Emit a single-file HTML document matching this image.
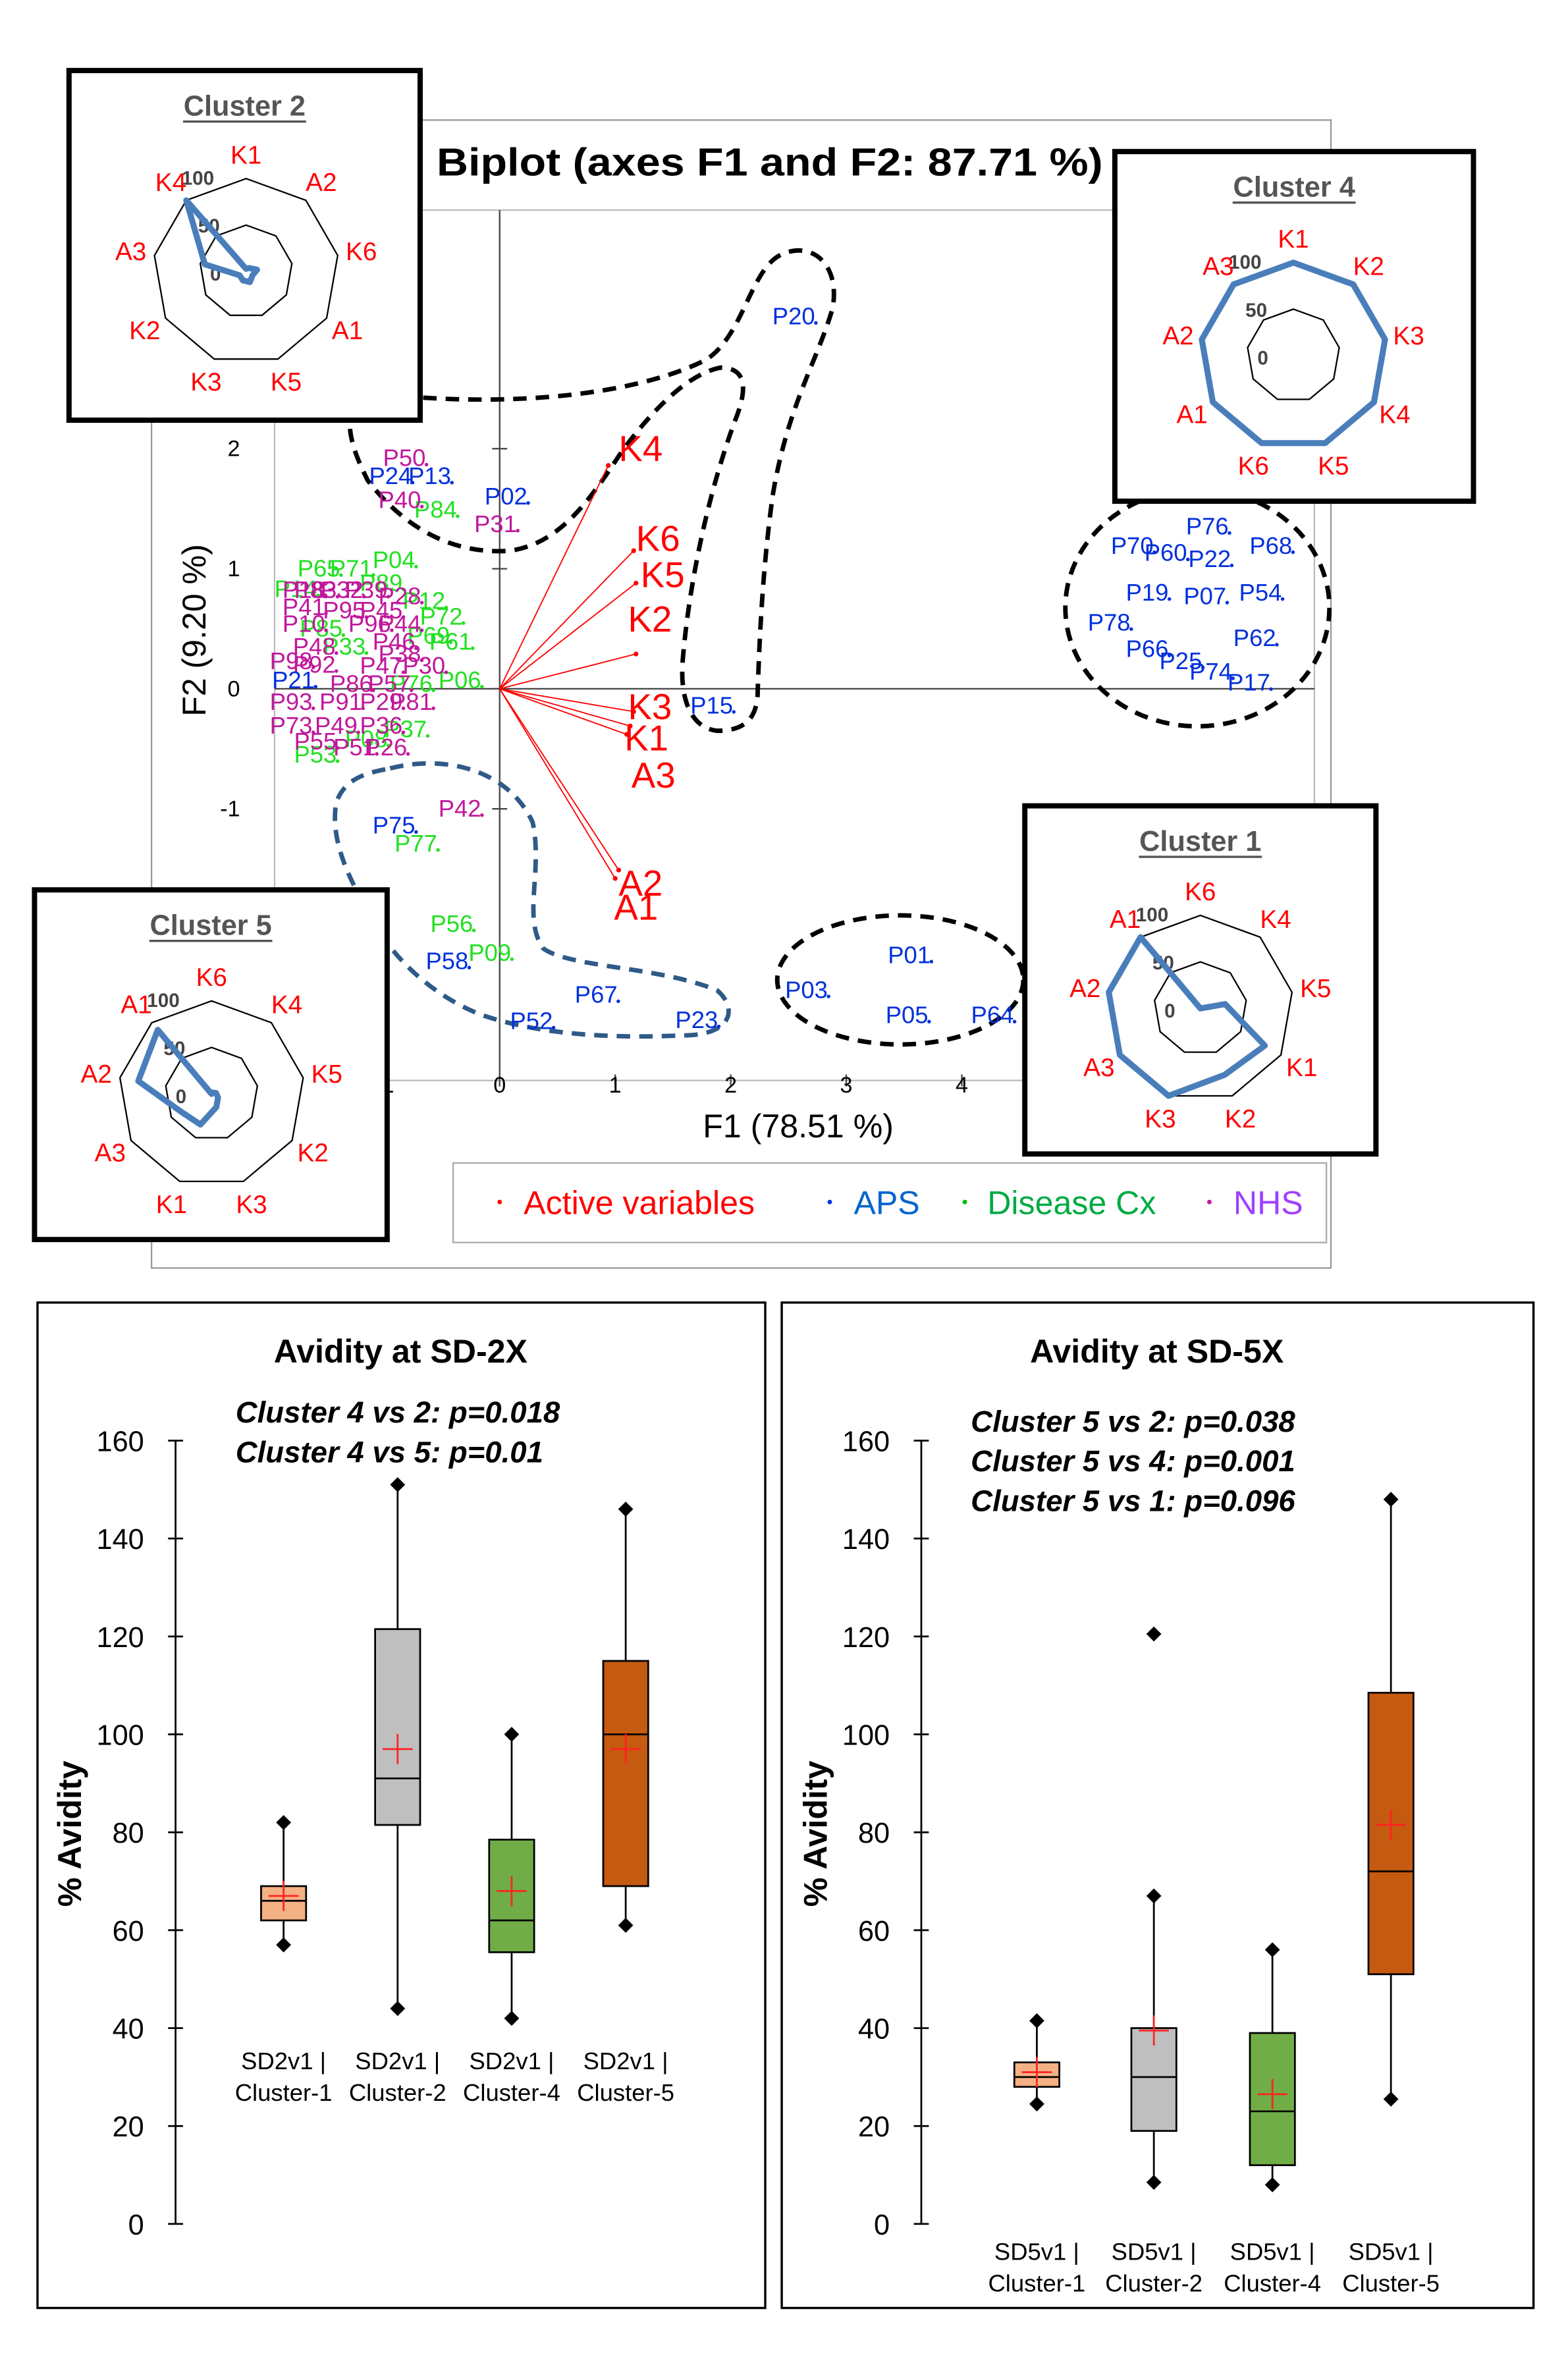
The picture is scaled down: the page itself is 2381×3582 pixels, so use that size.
<!DOCTYPE html>
<html><head><meta charset="utf-8"><style>
html,body{margin:0;padding:0;background:#fff}
svg{display:block}
text{font-family:"Liberation Sans",sans-serif}
</style></head><body>
<svg id="root" xmlns="http://www.w3.org/2000/svg" width="2381" height="3582" viewBox="0 0 1045 1572" preserveAspectRatio="none">
<rect x="0" y="0" width="1045" height="1572" fill="#fff"/>
<g id="biplot">
<rect x="101" y="80" width="786" height="765" fill="#fff" stroke="#999" stroke-width="1"/>
<text x="513" y="117" font-size="26" font-weight="bold" text-anchor="middle" textLength="444" lengthAdjust="spacingAndGlyphs">Biplot (axes F1 and F2: 87.71 %)</text>
<rect x="183" y="140" width="693" height="580" fill="none" stroke="#bbb" stroke-width="1"/>
<g id="bpAxes"></g>
<g id="outlines" fill="none" stroke-width="3" stroke-dasharray="9,6">
<path d="M282,265 C360,270 430,260 470,240 C495,225 500,180 520,170 C540,160 560,175 555,205 C545,240 525,270 515,330 C508,380 506,430 505,460 C505,480 495,487 478,487 C460,485 453,465 455,440 C460,380 475,320 490,280 C500,255 495,245 480,245 C455,250 430,280 415,300 C395,330 375,362 340,367 C300,370 268,350 245,320 C235,300 233,290 233,280" stroke="#000"/>
<path d="M260,512 C300,502 340,515 355,548 C362,580 348,612 362,632 C380,645 440,644 478,660 C492,672 488,690 455,690 C410,692 360,690 320,676 C290,664 262,640 248,612 C232,585 220,560 224,535 C230,518 245,515 260,512 Z" stroke="#2f5a88"/>
<ellipse cx="600" cy="653" rx="82" ry="43" stroke="#000"/>
<ellipse cx="798" cy="405" rx="88" ry="79" stroke="#000"/>
</g>
<g id="vectors"></g>
<g id="points"></g>
<text x="532" y="758" font-size="22" text-anchor="middle">F1 (78.51 %)</text>
<text x="0" y="0" font-size="22" text-anchor="middle" transform="translate(137,420) rotate(-90)">F2 (9.20 %)</text>
<g>
<rect x="302" y="775" width="582" height="53" fill="#fff" stroke="#aaa" stroke-width="1"/>
<g><circle cx="333" cy="801" r="1.5" fill="#f00"/><text x="349" y="809" font-size="22" fill="#f00">Active variables</text></g>
<g><circle cx="553" cy="801" r="1.5" fill="#0033dd"/><text x="569" y="809" font-size="22" fill="#0066cc">APS</text></g>
<g><circle cx="643" cy="801" r="1.5" fill="#00bb00"/><text x="658" y="809" font-size="22" fill="#00aa44">Disease Cx</text></g>
<g><circle cx="806" cy="801" r="1.5" fill="#c0189c"/><text x="822" y="809" font-size="22" fill="#a040ff">NHS</text></g>
</g>
</g>
<g id="radars"></g>
<g id="boxes"></g>
</svg>
<script>
// ---------- Biplot data ----------
const vecNames = ["K4","K6","K5","K2","K3","K1","A3","A2","A1"];
const vecF1 = [0.94,1.16,1.18,1.18,1.16,1.13,1.10,1.03,1.00];
const vecF2 = [1.86,1.15,0.88,0.29,-0.19,-0.31,-0.38,-1.51,-1.58];
const vecLabelF1 = [1.03,1.18,1.22,1.11,1.11,1.08,1.14,1.03,0.99];
const vecLabelF2 = [2.01,1.26,0.96,0.59,-0.14,-0.40,-0.71,-1.61,-1.81];

const apsNames = ["P20","P24","P13","P02","P15","P75","P58","P52","P67","P23","P03","P01","P05","P64","P70","P60","P22","P76","P68","P19","P07","P54","P78","P62","P66","P25","P74","P17","P21"];
const apsF1 = [2.36,-1.13,-0.79,-0.13,1.65,-1.10,-0.64,0.09,0.65,1.52,2.47,3.36,3.34,4.08,5.29,5.58,5.96,5.94,6.49,5.42,5.92,6.40,5.09,6.35,5.42,5.71,5.97,6.30,-1.97];
const apsF2 = [3.11,1.78,1.78,1.61,-0.13,-1.13,-2.26,-2.76,-2.54,-2.75,-2.50,-2.21,-2.71,-2.71,1.20,1.14,1.09,1.36,1.20,0.81,0.78,0.81,0.56,0.43,0.34,0.24,0.15,0.06,0.08];

const cxNames = ["P84","P04","P65","P71","P89","P14","P12","P72","P61","P06","P37","P08","P53","P77","P56","P09","P85","P33","P69","P76"];
const cxF1 = [-0.74,-1.10,-1.75,-1.47,-1.21,-1.95,-0.84,-0.69,-0.61,-0.53,-1.00,-1.34,-1.78,-0.91,-0.60,-0.27,-1.73,-1.53,-0.80,-0.95];
const cxF2 = [1.50,1.08,1.01,1.01,0.89,0.84,0.74,0.61,0.40,0.08,-0.33,-0.41,-0.54,-1.28,-1.95,-2.19,0.51,0.36,0.45,0.05];

const nhsNames = ["P50","P40","P31","P42","P18","P83","P32","P39","P28","P41","P95","P45","P10","P96","P44","P48","P98","P92","P47","P30","P93","P91","P29","P81","P73","P49","P36","P55","P51","P26","P86","P57","P38","P46"];
const nhsF1 = [-1.01,-1.05,-0.22,-0.53,-1.88,-1.78,-1.55,-1.34,-1.05,-1.88,-1.53,-1.21,-1.88,-1.31,-1.05,-1.79,-1.99,-1.79,-1.21,-0.84,-1.99,-1.56,-1.21,-0.95,-1.99,-1.60,-1.21,-1.78,-1.44,-1.17,-1.47,-1.14,-1.05,-1.10];
const nhsF2 = [1.93,1.58,1.38,-0.99,0.83,0.83,0.83,0.83,0.78,0.69,0.66,0.66,0.55,0.55,0.55,0.36,0.24,0.21,0.20,0.20,-0.10,-0.10,-0.10,-0.10,-0.30,-0.30,-0.30,-0.43,-0.48,-0.48,0.05,0.05,0.30,0.40];

const xTicks = [-1,0,1,2,3,4];
const yTicks = [2,1,0,-1];

const NS="http://www.w3.org/2000/svg";
function mk(tag,attrs,parent,txt){const e=document.createElementNS(NS,tag);for(const k in attrs)e.setAttribute(k,attrs[k]);if(txt!==undefined)e.textContent=txt;parent.appendChild(e);return e;}
const fx=v=>333+77*v, fy=v=>459-80*v;

const ax=document.getElementById('bpAxes');
let l=mk('line',{x1:183,y1:fy(0),x2:876,y2:fy(0),stroke:'#444','stroke-width':1},ax);


l=mk('line',{x1:fx(0),y1:140,x2:fx(0),y2:720,stroke:'#444','stroke-width':1},ax);


xTicks.forEach(t=>{mk('line',{x1:fx(t),y1:716,x2:fx(t),y2:724,stroke:'#444'},ax);
 const e=mk('text',{x:fx(t),y:728,'font-size':15,'text-anchor':'middle'},ax,String(t));
 
 });
yTicks.forEach(t=>{mk('line',{x1:fx(0)-5,y1:fy(t),x2:fx(0)+5,y2:fy(t),stroke:'#444'},ax);
 const e=mk('text',{x:160,y:fy(t)+5,'font-size':15,'text-anchor':'end'},ax,String(t));
 
 });

const vg=document.getElementById('vectors');
vecNames.forEach((n,i)=>{
 const ln=mk('line',{x1:fx(0),y1:fy(0),x2:fx(vecF1[i]),y2:fy(vecF2[i]),stroke:'#f00','stroke-width':0.8},vg);
 
 
 mk('circle',{cx:fx(vecF1[i]),cy:fy(vecF2[i]),r:1.6,fill:'#f00'},vg);
 const t=mk('text',{x:fx(vecLabelF1[i]),y:fy(vecLabelF2[i])+9,'font-size':24,fill:'#f00'},vg,n);
 
 
});
const pg=document.getElementById('points');
function drawPts(names,f1,f2,col,grp){names.forEach((n,i)=>{
 mk('circle',{cx:fx(f1[i])+29,cy:fy(f2[i])+5,r:1.2,fill:col},pg);
 const t=mk('text',{x:fx(f1[i]),y:fy(f2[i])+6,'font-size':16,fill:col},pg,n);
 
 
});}
drawPts(cxNames,cxF1,cxF2,'#22e022','cx');
drawPts(nhsNames,nhsF1,nhsF2,'#c0189c','nhs');
drawPts(apsNames,apsF1,apsF2,'#0030dd','aps');

// ---------- Radar insets ----------
const c2Axes=["K1","A2","K6","A1","K5","K3","K2","A3","K4"];
const c2Vals=[3,5,12,8,12,10,8,45,100];
const c4Axes=["K1","K2","K3","K4","K5","K6","A1","A2","A3"];
const c4Vals=[100,100,100,100,100,100,100,100,100];
const c1Axes=["K6","K4","K5","K1","K2","K3","A3","A2","A1"];
const c1Vals=[0,0,27,80,76,100,100,100,100];
const c5Axes=["K6","K4","K5","K2","K3","K1","A3","A2","A1"];
const c5Vals=[0,2,5,8,15,35,38,80,90];
const radarDefs=[
 {name:'Cluster 2',axes:c2Axes,vals:c2Vals,bx:46,by:47,w:234,h:233,cx:164,cy:181},
 {name:'Cluster 4',axes:c4Axes,vals:c4Vals,bx:743,by:101,w:239,h:233,cx:862,cy:237},
 {name:'Cluster 1',axes:c1Axes,vals:c1Vals,bx:683,by:537,w:234,h:232,cx:800,cy:672},
 {name:'Cluster 5',axes:c5Axes,vals:c5Vals,bx:23,by:593,w:235,h:233,cx:141,cy:729}];
const rg=document.getElementById('radars');
radarDefs.forEach(d=>{
 const g=mk('g',{},rg);
 
 
 mk('rect',{x:d.bx,y:d.by,width:d.w,height:d.h,fill:'#fff',stroke:'#000','stroke-width':3.5},g);
 const tt=mk('text',{x:d.bx+d.w/2,y:d.by+30,'font-size':19,'font-weight':'bold',fill:'#555','text-anchor':'middle'},g,d.name);
 
 
 mk('line',{x1:d.bx+d.w/2-41,y1:d.by+34,x2:d.bx+d.w/2+41,y2:d.by+34,stroke:'#555','stroke-width':1.5},g);
 const R=62,n=d.axes.length;
 const pt=(k,r)=>{const a=-Math.PI/2+2*Math.PI*k/n;return [d.cx+r*Math.cos(a),d.cy+r*Math.sin(a)];};
 [R,R/2].forEach(r=>{const p=[];for(let k=0;k<n;k++)p.push(pt(k,r).join(','));mk('polygon',{points:p.join(' '),fill:'none',stroke:'#000','stroke-width':1},g);});
 mk('text',{x:d.cx-43,y:d.cy-58,'font-size':13,'font-weight':'bold',fill:'#444'},g,'100');
 mk('text',{x:d.cx-32,y:d.cy-26,'font-size':13,'font-weight':'bold',fill:'#444'},g,'50');
 mk('text',{x:d.cx-24,y:d.cy+6,'font-size':13,'font-weight':'bold',fill:'#444'},g,'0');
 d.axes.forEach((a,k)=>{const p=pt(k,R+16);const t=mk('text',{x:p[0],y:p[1]+6,'font-size':17,fill:'#f00','text-anchor':'middle'},g,a);
  
  });
 const lp=d.vals.map((v,k)=>pt(k,R*v/100).join(','));
 const pl=mk('polygon',{points:lp.join(' '),fill:'none',stroke:'#4a7ebb','stroke-width':4,'stroke-linejoin':'round'},g);
 
 
});

// ---------- Box plots ----------
const boxTicks=[0,20,40,60,80,100,120,140,160];
const sd2Min=[57,44,42,61], sd2Q1=[62,81.5,55.5,69], sd2Med=[66,91,62,100], sd2Q3=[69,121.5,78.5,115], sd2Max=[82,151,100,146], sd2Mean=[67,97,68,97];
const sd5Min=[24.5,8.5,8,25.5], sd5Q1=[28,19,12,51], sd5Med=[30,30,23,72], sd5Q3=[33,40,39,108.5], sd5Max=[41.5,67,56,148], sd5Mean=[31,39.5,26.5,81.5];
const sd5Outliers=[null,120.5,null,null];
const boxColors=['#f4b183','#bfbfbf','#70ad47','#c55a11'];
const sd2Cats=['Cluster-1','Cluster-2','Cluster-4','Cluster-5'];
const yv=v=>1482-3.2625*v;
const bg=document.getElementById('boxes');
function panel(o){
 const g=mk('g',{},bg);
 
 
 mk('rect',{x:o.x,y:868,width:o.w,height:670,fill:'#fff',stroke:'#000','stroke-width':1.5},g);
 const t=mk('text',{x:o.tx,y:908,'font-size':22,'font-weight':'bold','text-anchor':'middle'},g,o.title);
 
 
 o.notes.forEach((s,i)=>{const e=mk('text',{x:o.nx,y:o.ny+i*26.5,'font-size':20,'font-weight':'bold','font-style':'italic'},g,s);
  
  });
 mk('line',{x1:o.ax,y1:yv(0),x2:o.ax,y2:yv(160),stroke:'#000','stroke-width':1.2},g);
 boxTicks.forEach(v=>{mk('line',{x1:o.ax-5,y1:yv(v),x2:o.ax+5,y2:yv(v),stroke:'#000','stroke-width':1.2},g);
  const e=mk('text',{x:o.ax-21,y:yv(v)+7,'font-size':19,'text-anchor':'end'},g,String(v));
  
  });
 const yt=mk('text',{x:0,y:0,'font-size':22,'font-weight':'bold','text-anchor':'middle',transform:`translate(${o.ax-63},1222) rotate(-90)`},g,'% Avidity');
 
 
 o.cx.forEach((cx,i)=>{
  const bw=30;
  mk('line',{x1:cx,y1:yv(o.mn[i]),x2:cx,y2:yv(o.mx[i]),stroke:'#000','stroke-width':1.2},g);
  const r=mk('rect',{x:cx-bw/2,y:yv(o.q3[i]),width:bw,height:yv(o.q1[i])-yv(o.q3[i]),fill:boxColors[i],stroke:'#000','stroke-width':1.2},g);
  
  
  mk('line',{x1:cx-bw/2,y1:yv(o.md[i]),x2:cx+bw/2,y2:yv(o.md[i]),stroke:'#000','stroke-width':1.2},g);
  [o.mn[i],o.mx[i]].concat(o.out&&o.out[i]!=null?[o.out[i]]:[]).forEach(v=>{const y=yv(v);mk('polygon',{points:`${cx},${y-5} ${cx+5},${y} ${cx},${y+5} ${cx-5},${y}`,fill:'#000'},g);});
  const my=yv(o.me[i]);
  mk('line',{x1:cx-10,y1:my,x2:cx+10,y2:my,stroke:'#f22','stroke-width':1.2},g);
  mk('line',{x1:cx,y1:my-10,x2:cx,y2:my+10,stroke:'#f22','stroke-width':1.2},g);
  const c1=mk('text',{x:cx,y:o.ly,'font-size':16,'text-anchor':'middle'},g,o.pre+' |');
  
  
  mk('text',{x:cx,y:o.ly+21,'font-size':16,'text-anchor':'middle'},g,sd2Cats[i]);
 });
}
panel({id:'boxplot-sd-2x',x:25,w:485,tx:267,title:'Avidity at SD-2X',nx:157,ny:948,notes:['Cluster 4 vs 2: p=0.018','Cluster 4 vs 5: p=0.01'],ax:117,cx:[189,265,341,417],mn:sd2Min,q1:sd2Q1,md:sd2Med,q3:sd2Q3,mx:sd2Max,me:sd2Mean,ly:1379,pre:'SD2v1'});
panel({id:'boxplot-sd-5x',x:521,w:501,tx:771,title:'Avidity at SD-5X',nx:647,ny:954,notes:['Cluster 5 vs 2: p=0.038','Cluster 5 vs 4: p=0.001','Cluster 5 vs 1: p=0.096'],ax:614,cx:[691,769,848,927],mn:sd5Min,q1:sd5Q1,md:sd5Med,q3:sd5Q3,mx:sd5Max,me:sd5Mean,out:sd5Outliers,ly:1506,pre:'SD5v1'});
</script>
</body></html>
